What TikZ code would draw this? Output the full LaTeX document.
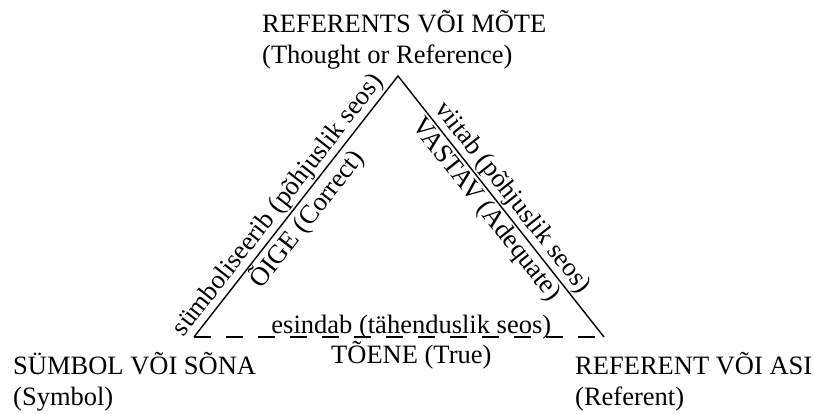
\documentclass[tikz,border=0pt]{standalone}
\usepackage{fontspec}
\setmainfont{Liberation Serif}
\usetikzlibrary{positioning}
\newcommand{\lblfont}{\fontsize{26.5}{31}\selectfont}

\begin{document}
\begin{tikzpicture}[x=1pt,y=1pt, every node/.style={font=\lblfont, inner sep=0pt}]
      \useasboundingbox (0,0) rectangle (813,413);
      \coordinate (mote) at (398,337);
      \coordinate (sona) at (194,76);
      \coordinate (asi) at (604,76);
      % Nurgad
      \node[anchor=base west, align=left] (thought) at (262,349) {REFERENTS VÕI MÕTE\\(Thought or Reference)};
      \node[anchor=base west, align=left] (symbol) at (13,8) {SÜMBOL VÕI SÕNA\\(Symbol)};
      \node[anchor=base west, align=left] (referent) at (575,8) {REFERENT VÕI ASI\\(Referent)};
      % Küljed
      \draw[line width=1.4pt] (sona)
        -- node[pos=0.47, sloped, above=1.5pt] (symbolises) {sümboliseerib (põhjuslik seos)}
           node[pos=0.49, sloped, below=1.5pt] (correct) {ÕIGE (Correct)} (mote)
        -- node[sloped, above=1.5pt] (refers) {viitab (põhjuslik seos)}
           node[pos=0.48, sloped, below=1.5pt] (adequate) {VASTAV (Adequate)} (asi);
      \draw[line width=1.4pt, dash pattern=on 17pt off 15pt] (sona)
        -- node[pos=0.53, anchor=base, yshift=4pt] (stands) {esindab (tähenduslik seos)}
           node[pos=0.53, anchor=base, yshift=-26pt] (true) {TÕENE (True)} (asi);
    \end{tikzpicture}
\end{document}
